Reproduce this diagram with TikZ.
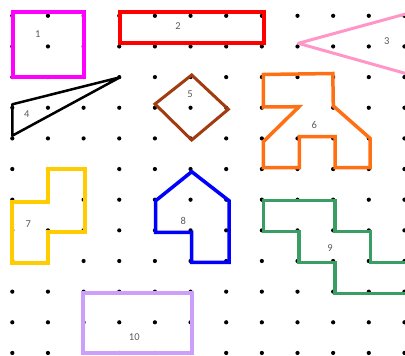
\documentclass[tikz,border=0pt]{standalone}
\usepackage{fontspec}
\setmainfont{Carlito}
\definecolor{cMag}{RGB}{255,0,255}
\definecolor{cRed}{RGB}{255,0,0}
\definecolor{cPink}{RGB}{255,150,200}
\definecolor{cBrown}{RGB}{160,60,15}
\definecolor{cOrange}{RGB}{255,112,20}
\definecolor{cYellow}{RGB}{255,204,0}
\definecolor{cBlue}{RGB}{0,0,255}
\definecolor{cGreen}{RGB}{58,158,100}
\definecolor{cLav}{RGB}{204,160,250}
\definecolor{cLabel}{RGB}{90,90,90}
\tikzset{
  griddot/.style={fill=black,draw=none},
  lbl/.style={text=cLabel,font=\fontsize{10.5}{12}\selectfont,inner sep=0pt},
  shp/.style={line join=miter}
}
\begin{document}
\begin{tikzpicture}[x=1pt,y=-1pt]
\useasboundingbox (0,0) rectangle (405,356);
\clip (0,0) rectangle (405,356);
% grid of dots
\foreach \i in {0,...,11}{
  \foreach \j in {0,...,11}{
    \fill[griddot] ({12.3+35.65*\i},{15.8+30.65*\j}) circle (2.1);
  }
}
% 1 magenta square
\draw[shp,cMag,line width=4] (12.5,12) rectangle (84.3,76.5);
\node[lbl] (l1) at (37.7,34.3) {1};
% 2 red rectangle
\draw[shp,cRed,line width=4] (119.5,12.3) rectangle (263.8,42.8);
\node[lbl] (l2) at (178,26) {2};
% 3 pink triangle (runs off the right edge)
\draw[cPink,line width=3,line join=round] (430,7.3) -- (298.3,43.3) -- (430,80.3);
\node[lbl] (l3) at (386.7,40.7) {3};
% 4 black triangle
\draw[black,line width=2.5,line join=round] (12.3,104.3) -- (120,77.3) -- (12.3,135.7) -- cycle;
\node[lbl] (l4) at (26.7,114) {4};
% 5 brown diamond
\draw[shp,cBrown,line width=3] (191.7,75) -- (228.3,109.3) -- (191.7,140) -- (155,104) -- cycle;
\node[lbl] (l5) at (190,94.3) {5};
% 6 orange
\draw[shp,cOrange,line width=3.5] (263.3,74.5) -- (332.8,73.5) -- (333.3,106) -- (370,138.3)
  -- (370,167.7) -- (335,167.7) -- (335,136.7) -- (299.3,136.7) -- (299.3,167.7)
  -- (263.3,167.7) -- (263.3,141.7) -- (299,106.7) -- (263.3,107) -- cycle;
\node[lbl] (l6) at (314.3,125) {6};
% 7 yellow
\draw[shp,cYellow,line width=4] (48,169) -- (85,169) -- (85,231.7) -- (48,231.7) -- (48,263.3)
  -- (12.3,263.3) -- (12.3,202.3) -- (48,202.3) -- cycle;
\node[lbl] (l7) at (28.3,224) {7};
% 8 blue
\draw[shp,cBlue,line width=3.5] (191.7,171.7) -- (229,200.7) -- (229,262.3) -- (191.7,262.3)
  -- (191.7,232.3) -- (155.7,232.3) -- (155.7,200.7) -- cycle;
\node[lbl] (l8) at (183.3,220.7) {8};
% 9 green (runs off the right edge)
\draw[shp,cGreen,line width=3.5] (263.3,200.7) -- (335,200.7) -- (335,231.7) -- (370.7,231.7)
  -- (370.7,262.3) -- (430,262.3) -- (430,293.3) -- (335,293.3) -- (335,262.3) -- (299,262.3)
  -- (299,231.7) -- (263.3,231.7) -- cycle;
\node[lbl] (l9) at (330,248.3) {9};
% 10 lavender rectangle
\draw[shp,cLav,line width=4] (83.3,293) rectangle (191.7,353);
\node[lbl] (l10) at (134.3,336.7) {10};
\end{tikzpicture}
\end{document}
